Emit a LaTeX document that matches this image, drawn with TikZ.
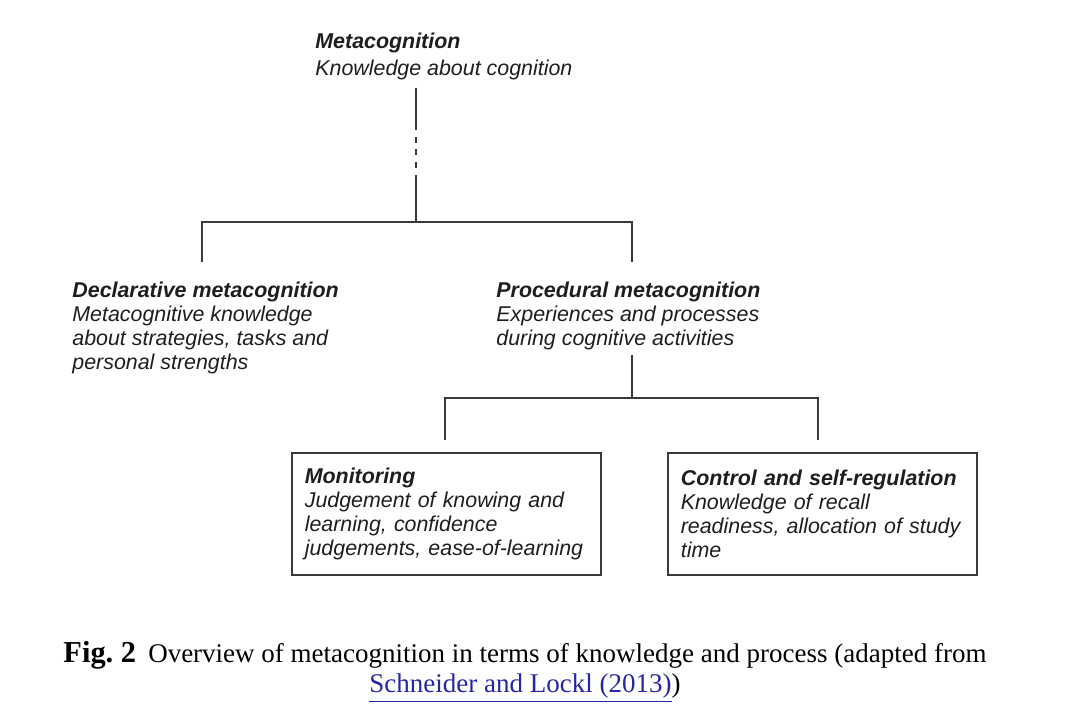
\documentclass[tikz,border=0pt]{standalone}
\usepackage{fontspec}
\setmainfont{Liberation Serif}
\setsansfont{Liberation Sans}

\definecolor{inkgray}{HTML}{1E1E1E}
\definecolor{linegray}{HTML}{3A3A3A}
\definecolor{linkblue}{HTML}{2626A3}

\tikzset{
	label text/.style={anchor=north west, inner sep=0pt, align=left, text=inkgray,
		font=\sffamily\itshape\fontsize{10.7}{12}\selectfont},
	tree line/.style={draw=linegray, line width=0.7pt},
	leaf box/.style={draw=linegray, line width=0.8pt, anchor=north west, align=left,
		minimum width=154.5pt, minimum height=61pt, text width=141.5pt, inner xsep=6.5pt,
		text=inkgray, font=\sffamily\itshape\fontsize{10.7}{12}\selectfont},
}

\begin{document}
\begin{tikzpicture}[x=0.5pt, y=-0.5pt]
			\useasboundingbox (0, 0) rectangle (1080, 726);

			\node [label text] (meta) at (315, 33)
				{{\bfseries Metacognition}\\[1.5pt] Knowledge about cognition};
			\node [label text] (decl) at (72, 282)
				{{\bfseries Declarative metacognition}\\ Metacognitive knowledge\\
				about strategies, tasks and\\ personal strengths};
			\node [label text] (proc) at (496, 282)
				{{\bfseries Procedural metacognition}\\ Experiences and processes\\
				during cognitive activities};
			\node [leaf box] (mon) at (291, 452)
				{{\bfseries Monitoring}\\ Judgement of knowing and\\
				learning, confidence\\ judgements, ease-of-learning};
			\node [leaf box] (ctrl) at (667, 452)
				{{\bfseries Control and self-regulation}\\ Knowledge of recall\\
				readiness, allocation of study\\ time};

			\coordinate (meta stem) at (416, 88);
			\coordinate (split top) at (416, 222);
			\coordinate (decl stem) at (202, 262);
			\coordinate (proc stem) at (632, 262);
			\coordinate (proc foot) at (632, 355);
			\coordinate (split low) at (632, 398);
			\coordinate (mon stem) at (445, 440);
			\coordinate (ctrl stem) at (818, 440);

			\draw [tree line, dash pattern=on 21pt off 3.5pt on 3pt off 3pt on 3pt off 3.5pt on 3pt off 3.5pt on 30pt]
				(meta stem) -- (split top);
			\draw [tree line] (decl stem) |- (split top) -| (proc stem);
			\draw [tree line] (proc foot) -- (split low);
			\draw [tree line] (mon stem) |- (split low) -| (ctrl stem);

			\node [anchor=north, align=center, inner sep=0pt, font=\fontsize{13.5}{15}\selectfont] (caption) at (525, 641)
				{{\fontsize{15.2}{15}\selectfont\bfseries Fig.~2}\hspace{0.45em}Overview of metacognition in terms of knowledge and process (adapted from\\
				\textcolor{linkblue}{\underline{Schneider and Lockl (2013)}})};
		\end{tikzpicture}
\end{document}
